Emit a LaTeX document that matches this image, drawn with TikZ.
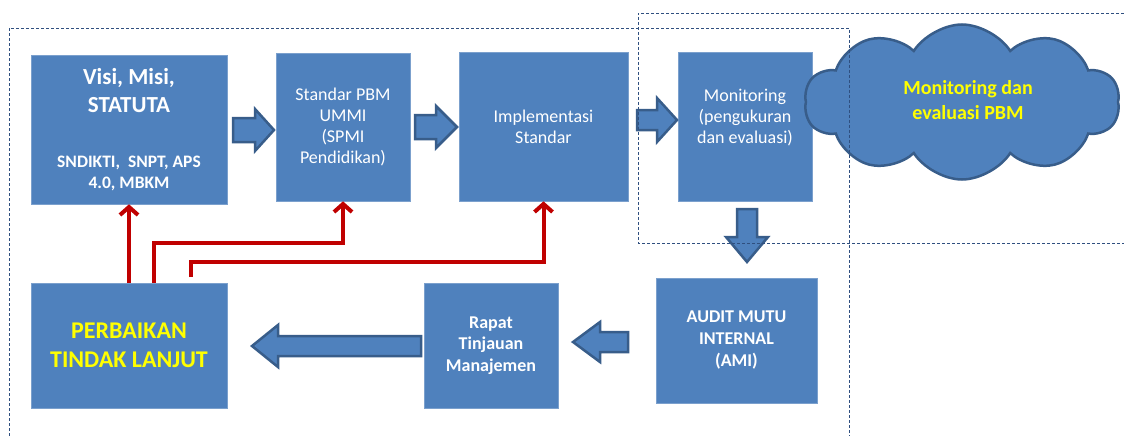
\documentclass[tikz,border=0pt]{standalone}
\usepackage{fontspec}
\setmainfont{Carlito}
\usetikzlibrary{shapes.symbols,arrows.meta,calc}
\definecolor{boxblue}{HTML}{4F81BD}
\definecolor{edgeblue}{HTML}{385D8A}
\definecolor{dashblue}{HTML}{2F4F7F}
\definecolor{redline}{HTML}{C00000}
\definecolor{txtyellow}{HTML}{FFFF00}
\newcommand\blkH[6]{\draw[barrow] (#1,#4-#5) -- (#2,#4-#5) -- (#2,#4-#6) -- (#3,#4) -- (#2,#4+#6) -- (#2,#4+#5) -- (#1,#4+#5) -- cycle;}
\newcommand\blkV[6]{\draw[barrow] (#4-#5,#1) -- (#4-#5,#2) -- (#4-#6,#2) -- (#4,#3) -- (#4+#6,#2) -- (#4+#5,#2) -- (#4+#5,#1) -- cycle;}
\begin{document}
\begin{tikzpicture}[x=1pt,y=-1pt,
 box/.style={rectangle, fill=boxblue, draw=boxblue!75!white, line width=0.6pt, text=white, align=center, inner sep=0pt, font=\fontsize{18}{21}\selectfont},
 barrow/.style={fill=boxblue, draw=edgeblue, line width=2.5pt, line join=miter},
 redarrow/.style={draw=redline, line width=4pt, -{Straight Barb[length=8pt,width=18pt]}},
 dashbox/.style={draw=dashblue, line width=0.9pt, dash pattern=on 3pt off 2pt}]
\useasboundingbox[fill=white] (0,0) rectangle (1124,436);

% boxes
\node[box, minimum width=196pt, minimum height=149pt, font=\fontsize{23}{28}\selectfont\bfseries] (visi) at (129,129.5)
 {Visi, Misi,\\STATUTA\\[27pt]{\fontsize{17.5}{21}\selectfont SNDIKTI,\ \ SNPT, APS}\\[-7pt]{\fontsize{17.5}{21}\selectfont 4.0, MBKM}};
\node[box, minimum width=134pt, minimum height=148pt] (std) at (343,127)
 {Standar PBM\\UMMI\\(SPMI\\Pendidikan)};
\node[box, minimum width=169pt, minimum height=149pt] (impl) at (543.5,126.5)
 {Implementasi\\Standar};
\node[box, minimum width=134pt, minimum height=149pt] (mon) at (745,126.5)
 {Monitoring\\(pengukuran\\dan evaluasi)\\\mbox{}};
\node[box, minimum width=196pt, minimum height=125pt, text=txtyellow, font=\fontsize{24}{29}\selectfont\bfseries] (perb) at (129,345.5)
 {PERBAIKAN\\TINDAK LANJUT};
\node[box, minimum width=134pt, minimum height=125pt, font=\fontsize{18}{21.5}\selectfont\bfseries] (rapat) at (491,345.5)
 {Rapat\\Tinjauan\\Manajemen};
\node[box, minimum width=161pt, minimum height=125pt, font=\fontsize{18}{22}\selectfont\bfseries] (audit) at (736.5,340.5)
 {AUDIT MUTU\\INTERNAL\\(AMI)};

% cloud
\node[cloud, cloud puffs=10, cloud puff arc=115, fill=boxblue, draw=edgeblue, line width=2.5pt,
 minimum width=315pt, minimum height=155pt, inner sep=0pt] (cloud) at (962,102) {};
\node[text=txtyellow, align=center, font=\fontsize{20}{25}\selectfont\bfseries] (cloudtxt) at (968,100)
 {Monitoring dan\\evaluasi PBM};

% block arrows
\blkH{233}{255}{274}{130}{12}{21}
\blkH{415}{436}{457}{127}{12}{21}
\blkH{637}{657}{677}{120}{10}{22}
\blkV{209}{237}{262}{747}{10}{21}
\blkH{628}{600}{573}{342}{10}{20}
\blkH{421}{278}{252}{346}{10}{21}

% red arrows
\draw[redarrow] (perb.north) -- (visi.south);
\draw[redarrow] ($(perb.north)+(25,0)$) -- ++(0,-40) -| (std.south);
\coordinate (r3) at (191,277);
\draw[redarrow] (r3) -- ++(0,-15) -| (impl.south);

% dashed frames
\draw[dashbox] (9,436) -- (9,28) -- (849,28) -- (849,436);
\draw[dashbox] (1124,13) -- (638,13) -- (638,243) -- (1124,243);
\end{tikzpicture}
\end{document}
